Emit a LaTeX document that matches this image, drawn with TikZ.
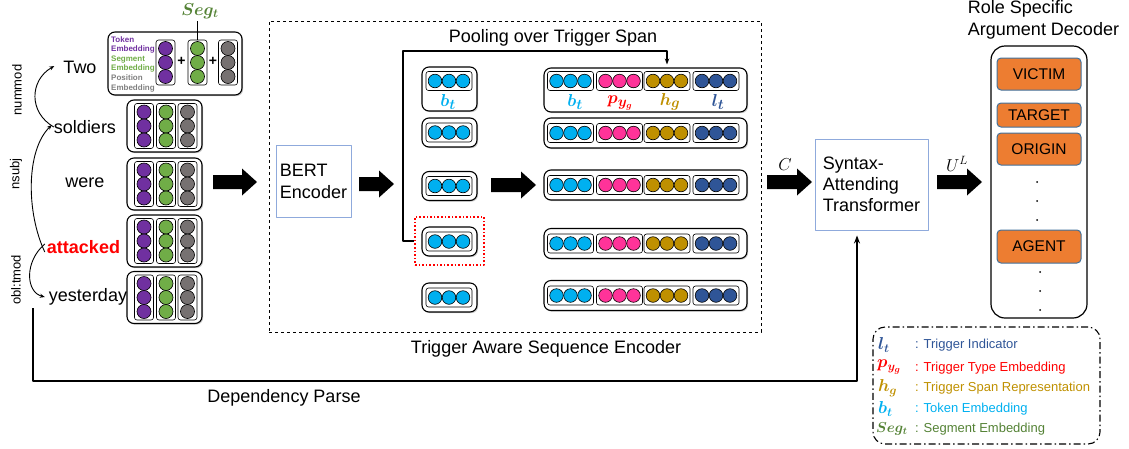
\documentclass[tikz,border=0pt]{standalone}
\usepackage{fontspec}
\setmainfont{Liberation Sans}
\usetikzlibrary{arrows.meta,shadows}
\definecolor{cpur}{HTML}{7030A0}
\definecolor{cgrn}{HTML}{70AD47}
\definecolor{cgry}{HTML}{767171}
\definecolor{ccya}{HTML}{00B0F0}
\definecolor{cpink}{HTML}{FF3399}
\definecolor{cgold}{HTML}{BF9000}
\definecolor{cnavy}{HTML}{2F5597}
\definecolor{corange}{HTML}{ED7D31}
\definecolor{cbord}{HTML}{41719C}
\definecolor{cbox}{HTML}{8FAADC}
\definecolor{cred}{HTML}{FF0000}
\definecolor{csegg}{HTML}{548235}
\newcommand\fsz[2]{\fontsize{#1}{#2}\selectfont}
\newcommand\vcol[3]{%
  \draw[line width=0.6pt, rounded corners=2.5pt] (#1-9.5,#2) rectangle (#1+9.5,#2+45);
  \foreach \k in {0,1,2} \filldraw[fill=#3, draw=black, line width=0.6pt] (#1,#2+8.5+14*\k) circle[radius=7];
}
\newcommand\hgrp[3]{%
  \draw[line width=0.6pt, rounded corners=2.5pt] (#1-23,#2-9.5) rectangle (#1+23,#2+9.5);
  \foreach \k in {-1,0,1} \filldraw[fill=#3, draw=black, line width=0.6pt] (#1+14*\k,#2) circle[radius=6.8];
}
\newcommand\hrow[1]{%
  \hgrp{570.5}{#1}{ccya}\hgrp{619.5}{#1}{cpink}\hgrp{667}{#1}{cgold}\hgrp{716}{#1}{cnavy}%
}
\newcommand\fatarr[3]{%
  \fill (#1,#3-7) -- (#2-15,#3-7) -- (#2-15,#3-13.5) -- (#2,#3) -- (#2-15,#3+13.5) -- (#2-15,#3+7) -- (#1,#3+7) -- cycle;
}
\begin{document}
\begin{tikzpicture}[x=1pt,y=-1pt,line join=round,
  obox/.style={draw, line width=1.1pt, rounded corners=7pt, fill=white, inner sep=0pt,
    drop shadow={shadow xshift=1.2pt, shadow yshift=-1.2pt, fill=black!40}},
  word/.style={font=\fsz{18}{21}, inner sep=0pt},
  plainbox/.style={draw=cbox, line width=0.9pt, fill=white, inner sep=0pt},
  rolebox/.style={draw=cbord, fill=corange, rounded corners=4pt, line width=1pt,
    minimum width=84pt, font=\fsz{15.5}{18}, inner sep=0pt},
  deplab/.style={rotate=90, font=\fsz{13}{15}, inner sep=0pt},
  arc/.style={line width=0.9pt, -{Stealth[length=5pt,width=4pt]}},
  conn/.style={line width=1.3pt, -{Stealth[length=6pt,width=4.5pt]}},
  mlab/.style={inner sep=0pt, font=\fsz{19}{21}\boldmath},
  lg/.style={font=\fsz{13}{15}, inner sep=0pt, anchor=west},
  lgm/.style={font=\fsz{18}{20}\boldmath, inner sep=0pt, anchor=west}]
\useasboundingbox (0,0) rectangle (1129,448);

% ---------- words ----------
\node[word] (two) at (80,67) {Two};
\node[word] (sold) at (85,127) {soldiers};
\node[word] (were) at (85,183) {were};
\node[word, text=cred, font=\fsz{18}{21}\bfseries] (att) at (83.5,247) {attacked};
\node[word] (yest) at (88,297) {yesterday};

\node[deplab] (dl1) at (17,90) {nummod};
\node[deplab] (dl2) at (16,174) {nsubj};
\node[deplab] (dl3) at (16,280) {obl:tmod};

\draw[arc] (sold.west) .. controls (28,112) and (30,80) .. ([xshift=-9pt,yshift=1pt]two.west);
\draw[arc] ([xshift=-2pt,yshift=-5pt]att.west) .. controls (26,212) and (26,150) .. ([xshift=-2pt,yshift=2pt]sold.west);
\draw[arc] ([xshift=-2pt,yshift=3pt]att.west) .. controls (24,262) and (26,292) .. ([xshift=-4pt]yest.west);

% ---------- embedding boxes ----------
\node[obox, minimum width=134pt, minimum height=63pt] (e1) at (175,63.5) {};
\node[obox, minimum width=75pt, minimum height=52pt] (e2) at (164.5,126) {};
\node[obox, minimum width=75pt, minimum height=52pt] (e3) at (164.5,184) {};
\node[obox, minimum width=75pt, minimum height=52pt] (e4) at (164.5,241) {};
\node[obox, minimum width=75pt, minimum height=52pt] (e5) at (164.5,297.5) {};

\node[inner sep=0pt, align=left, anchor=west, font=\fsz{8}{9.6}\bfseries] (tl) at (111,64)
  {\textcolor{cpur}{Token}\\\textcolor{cpur}{Embedding}\\\textcolor{cgrn}{Segment}\\\textcolor{cgrn}{Embedding}\\\textcolor{gray}{Position}\\\textcolor{gray}{Embedding}};
\vcol{165.5}{40}{cpur}\vcol{197.5}{40}{cgrn}\vcol{228}{40}{cgry}
\node[inner sep=0pt, font=\fsz{14}{16}\bfseries] (pl1) at (181.5,61) {+};
\node[inner sep=0pt, font=\fsz{14}{16}\bfseries] (pl2) at (213,61) {+};
\foreach \t in {103.5,161.5,218.5,275}{\vcol{144}{\t}{cpur}\vcol{166}{\t}{cgrn}\vcol{187.5}{\t}{cgry}}

\node[mlab, text=csegg, font=\fsz{18}{20}\boldmath] (seg) at (200,11) {$Seg_t$};
\coordinate (segtop) at (197.5,40);
\draw[line width=1pt] (197.5,21) -- (segtop);

\fatarr{213}{257}{182}

% ---------- encoder ----------
\node[draw, dashed, line width=1pt, minimum width=492pt, minimum height=311pt, inner sep=0pt] (enc) at (515,176.5) {};
\node[word] (enclab) at (546,349) {Trigger Aware Sequence Encoder};

\node[plainbox, minimum width=75pt, minimum height=72pt, align=left, font=\fsz{18}{22}] (bert) at (313.5,181) {BERT\\Encoder};
\fatarr{359}{394}{184}

\node[obox, minimum width=55pt, minimum height=44pt] (s1) at (449.5,89) {};
\node[obox, minimum width=55pt, minimum height=29pt] (s2) at (449.5,132.5) {};
\node[obox, minimum width=55pt, minimum height=29pt] (s3) at (449.5,186) {};
\node[obox, minimum width=55pt, minimum height=29pt] (s4) at (449.5,241.5) {};
\node[obox, minimum width=55pt, minimum height=29pt] (s5) at (449.5,297.5) {};
\foreach \t in {81,132.5,186,241.5,297.5}{\hgrp{449}{\t}{ccya}}
\node[mlab, text=ccya] (sb) at (448,102) {$b_t$};
\node[draw=cred, dotted, line width=1.6pt, minimum width=69pt, minimum height=48pt, inner sep=0pt] (red) at (449.5,241) {};

\fatarr{491}{536}{185}

\node[obox, minimum width=203pt, minimum height=44pt] (b1) at (645.5,90) {};
\node[obox, minimum width=203pt, minimum height=30pt] (b2) at (645.5,133) {};
\node[obox, minimum width=203pt, minimum height=30pt] (b3) at (645.5,185) {};
\node[obox, minimum width=203pt, minimum height=30pt] (b4) at (645.5,243.5) {};
\node[obox, minimum width=203pt, minimum height=30pt] (b5) at (645.5,295.5) {};
\hrow{81}\hrow{133}\hrow{185}\hrow{243.5}\hrow{295.5}
\node[mlab, text=ccya] (lb) at (575,102) {$b_t$};
\node[mlab, text=cred] (lp) at (620,103) {$p_{y_g}$};
\node[mlab, text=cgold] (lh) at (670,102) {$h_g$};
\node[mlab, text=cnavy] (ll) at (718,102) {$l_t$};

\node[word] (pool) at (553,38) {Pooling over Trigger Span};
\coordinate (pl) at (403,51);
\coordinate (pr) at (667,51);
\draw[conn, shorten >=3pt] (red.west) -| (pl) -- (pr) -- (pr |- b1.north);

% ---------- syntax transformer ----------
\fatarr{767}{812}{182}
\node[inner sep=0pt, font=\fsz{17}{19}] (clab) at (785,165) {$C$};
\node[plainbox, minimum width=113pt, minimum height=91pt, align=left, font=\fsz{18}{21}] (syn) at (871.5,184.5) {Syntax-\\Attending\\Transformer};
\fatarr{937}{982}{182}
\node[inner sep=0pt, font=\fsz{17}{19}] (ulab) at (957,164) {$U^L$};

% ---------- decoder ----------
\node[word, align=left, font=\fsz{18}{22}] (dect) at (1043.5,20) {Role Specific\\Argument Decoder};
\node[draw, line width=1.2pt, rounded corners=14pt, minimum width=96pt, minimum height=272pt, inner sep=0pt] (dec) at (1039,182) {};
\node[rolebox, minimum height=32pt] (r1) at (1039,74) {VICTIM};
\node[rolebox, minimum height=24pt] (r2) at (1039,115) {TARGET};
\node[rolebox, minimum height=32pt] (r3) at (1039,149) {ORIGIN};
\node[rolebox, minimum height=33pt] (r4) at (1039,246.5) {AGENT};
\foreach \t in {182,201,220}{\fill (1037,\t) circle[radius=1];}
\foreach \t in {272,291,310}{\fill (1040,\t) circle[radius=1];}

% ---------- dependency parse ----------
\coordinate (dp) at (33,308);
\coordinate (dpc) at (857,381);
\draw[line width=1.8pt, -{Stealth[length=8pt,width=6pt]}, shorten >=5pt] (dp) |- (dpc) -- (dpc |- syn.south);
\node[word] (dplab) at (284,398) {Dependency Parse};

% ---------- legend ----------
\node[draw, dash pattern=on 7pt off 3pt on 1.5pt off 3pt, line width=1.1pt, rounded corners=12pt, minimum width=227pt, minimum height=117pt, inner sep=0pt] (leg) at (986.5,385.5) {};
\node[lgm, text=cnavy] (g1) at (878,345) {$l_t$};
\node[lg, text=cnavy] (t1) at (915,345) {: Trigger Indicator};
\node[lgm, text=cred] (g2) at (877,367) {$p_{y_g}$};
\node[lg, text=cred] (t2) at (915,368) {: Trigger Type Embedding};
\node[lgm, text=cgold] (g3) at (878,388) {$h_g$};
\node[lg, text=cgold] (t3) at (915,388) {: Trigger Span Representation};
\node[lgm, text=ccya] (g4) at (878,409) {$b_t$};
\node[lg, text=ccya] (t4) at (915,409) {: Token Embedding};
\node[lgm, text=csegg, font=\fsz{14.5}{16}\boldmath] (g5) at (876,429) {$Seg_t$};
\node[lg, text=csegg] (t5) at (915,429) {: Segment Embedding};
\end{tikzpicture}
\end{document}
